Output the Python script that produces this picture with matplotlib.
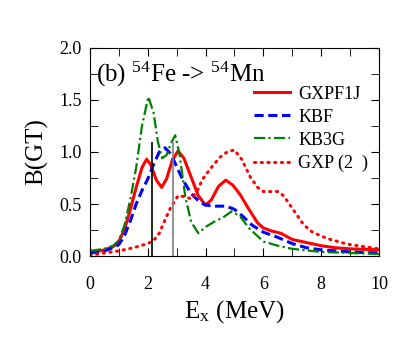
import matplotlib
matplotlib.use("Agg")
import matplotlib.pyplot as plt
from matplotlib.ticker import MultipleLocator

plt.rcParams["font.family"] = ["Liberation Serif", "DejaVu Serif"]
plt.rcParams["mathtext.fontset"] = "stix"

# GXPF1J (red solid)
x_gxpf1j = [0, 0.5, 0.8, 1.0, 1.2, 1.4, 1.6, 1.8, 1.96, 2.1, 2.3, 2.48, 2.65, 2.85, 3.05,
            3.25, 3.5, 3.75, 4.0, 4.2, 4.45, 4.7, 4.95, 5.2, 5.5, 5.8, 6.0, 6.3, 6.6, 7.0,
            7.5, 8.0, 8.5, 9.0, 9.5, 10]
y_gxpf1j = [0.03, 0.06, 0.09, 0.14, 0.26, 0.45, 0.66, 0.85, 0.93, 0.88, 0.73, 0.66, 0.74,
            0.92, 1.01, 0.94, 0.76, 0.58, 0.49, 0.54, 0.67, 0.73, 0.68, 0.59, 0.45, 0.32,
            0.27, 0.24, 0.22, 0.16, 0.13, 0.10, 0.08, 0.07, 0.065, 0.06]

# KBF (blue dashed)
x_kbf = [0, 0.5, 0.8, 1.0, 1.2, 1.4, 1.6, 1.8, 2.0, 2.2, 2.4, 2.6, 2.8, 3.0, 3.2, 3.5,
         3.8, 4.0, 4.3, 4.7, 5.0, 5.3, 5.6, 6.0, 6.5, 7.0, 7.5, 8.0, 9.0, 10]
y_kbf = [0.03, 0.05, 0.08, 0.11, 0.2, 0.34, 0.5, 0.63, 0.74, 0.88, 1.0, 1.04, 0.98, 0.86,
         0.74, 0.6, 0.52, 0.49, 0.48, 0.48, 0.45, 0.38, 0.3, 0.23, 0.18, 0.12, 0.08, 0.06,
         0.04, 0.03]

# KB3G (green dash-dot)
x_kb3g = [0, 0.5, 0.8, 1.0, 1.2, 1.4, 1.6, 1.8, 2.02, 2.2, 2.35, 2.5, 2.65, 2.8, 2.95,
          3.1, 3.3, 3.5, 3.75, 4.0, 4.3, 4.6, 4.9, 5.2, 5.5, 6.0, 6.5, 7.0, 8.0, 9.0, 10]
y_kb3g = [0.05, 0.07, 0.10, 0.15, 0.3, 0.55, 0.85, 1.25, 1.53, 1.38, 1.1, 0.94, 0.97,
          1.08, 1.16, 0.98, 0.57, 0.33, 0.22, 0.28, 0.33, 0.37, 0.43, 0.38, 0.27, 0.14,
          0.10, 0.07, 0.04, 0.03, 0.02]

# GXP(2) (red dotted)
x_gxp2 = [0, 0.5, 1.0, 1.5, 2.0, 2.2, 2.4, 2.6, 2.8, 3.05, 3.3, 3.5, 3.7, 3.9, 4.2, 4.5,
          4.75, 5.0, 5.25, 5.55, 5.8, 6.0, 6.5, 6.7, 7.0, 7.4, 7.7, 8.2, 8.9, 9.5, 10]
y_gxp2 = [0.01, 0.03, 0.05, 0.08, 0.12, 0.15, 0.22, 0.35, 0.47, 0.58, 0.57, 0.55, 0.62,
          0.74, 0.85, 0.95, 1.0, 1.02, 0.93, 0.76, 0.66, 0.62, 0.62, 0.58, 0.46, 0.30,
          0.23, 0.17, 0.115, 0.09, 0.07]

# experimental levels (vertical bars)
lev_x = [2.16, 2.87]
lev_h = [1.10, 1.10]
lev_c = ["black", "#808080"]

fig = plt.figure(figsize=(4.07, 3.37), dpi=100)
ax = fig.add_axes([0.221, 0.240, 0.710, 0.618])

ax.plot(x_gxpf1j, y_gxpf1j, color="#ff0000", lw=2.2, label="GXPF1J")
ax.plot(x_kbf, y_kbf, color="#0000ff", lw=2.2, ls=(0, (3, 1.5)), label="KBF")
ax.plot(x_kb3g, y_kb3g, color="#008000", lw=1.6, ls=(0, (5, 1.5, 1, 1.5)), label="KB3G")
ax.plot(x_gxp2, y_gxp2, color="#ff0000", lw=2.2, ls=(0, (0.4, 1.8)),
        dash_capstyle="round", label="GXP (2  )")
for lx, lh, lc in zip(lev_x, lev_h, lev_c):
    ax.vlines(lx, 0, lh, color=lc, lw=1.2)

ax.set_xlim(0, 10)
ax.set_ylim(0, 2.0)
ax.xaxis.set_major_locator(MultipleLocator(2))
ax.xaxis.set_minor_locator(MultipleLocator(1))
ax.yaxis.set_major_locator(MultipleLocator(0.5))
ax.yaxis.set_minor_locator(MultipleLocator(0.25))
ax.set_yticks([0, 0.5, 1.0, 1.5, 2.0])
ax.set_yticklabels(["0.0", "0.5", "1.0", "1.5", "2.0"])
ax.tick_params(which="both", direction="in", top=True, right=True, labelsize=13)
ax.tick_params(which="major", length=6)
ax.tick_params(which="minor", length=6)
ax.tick_params(axis="x", pad=14)
ax.tick_params(axis="y", pad=6)

ax.set_xlabel(r"E$_\mathregular{x}$ (MeV)", fontsize=18, labelpad=4)
ax.set_ylabel("B(GT)", fontsize=18, labelpad=8)

ax.text(0.2, 1.68, r"(b) $^{\mathregular{54}}$Fe -> $^{\mathregular{54}}$Mn", fontsize=18)

ax.legend(loc="upper right", bbox_to_anchor=(1.0, 0.87), frameon=False, fontsize=13,
          handlelength=2.0, handletextpad=0.45, labelspacing=0.33, borderaxespad=0.2)

fig.savefig("out.png", dpi=100)
